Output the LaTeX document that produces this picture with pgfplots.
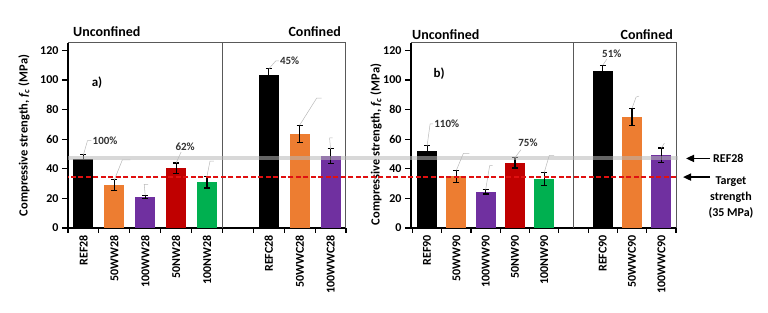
\documentclass[border=0pt]{standalone}
\usepackage{pgfplots}
\pgfplotsset{compat=1.18}
\usetikzlibrary{arrows.meta}
\usepackage{fontspec}
\setmainfont{Carlito}
\definecolor{cblack}{HTML}{000000}
\definecolor{corange}{HTML}{ED7D31}
\definecolor{cpurple}{HTML}{7030A0}
\definecolor{cred}{HTML}{C00000}
\definecolor{dashred}{HTML}{E01010}
\definecolor{cgreen}{HTML}{00B050}
\definecolor{refgray}{HTML}{B8B8B8}
\definecolor{framegray}{HTML}{595959}
\tikzset{
  leader/.style={gray!55, line width=0.5pt},
  pct/.style={text=black!80, font=\bfseries\fontsize{11}{11}\selectfont, inner sep=1pt},
  ttl/.style={font=\bfseries\fontsize{14}{14}\selectfont, inner sep=0pt},
  ylab/.style={rotate=90, font=\bfseries\fontsize{12.5}{12.5}\selectfont, inner sep=0pt},
}
\pgfplotsset{
  panel/.style={
    scale only axis, height=185pt, ymin=0, ymax=125, ytick={0,20,...,120},
    axis lines*=left, axis line style={black,line width=1.2pt},
    tick align=outside, major tick length=6pt, minor tick length=5pt,
    tick style={black,line width=1.1pt},
    major x tick style={draw=none},
    xtick={0,1,2,3,4,6,7,8},
    minor xtick={-0.5,0.5,1.5,2.5,3.5,4.5,5.5,6.5,7.5,8.5},
    ybar, bar width=20pt, bar shift=0pt,
    clip=false,
    /pgf/number format/assume math mode=true,
    ticklabel style={font=\bfseries\fontsize{12}{12}\selectfont},
    xticklabel style={rotate=90, anchor=east, inner sep=1pt},
    error bars/y dir=both, error bars/y explicit,
    error bars/error bar style={black,line width=1.2pt},
    error bars/error mark options={black, rotate=90, mark size=3pt, line width=1.2pt},
  },
}
\begin{document}
\begin{tikzpicture}
\useasboundingbox (0,0) rectangle (768pt,313pt);
% ---------------- panel a ----------------
\begin{axis}[panel, at={(68pt,85pt)}, anchor=south west, width=278pt,
  xmin=-0.5, xmax=8.5,
  xticklabels={REF28,50WW28,100WW28,50NW28,100NW28,REFC28,50WWC28,100WWC28}]
\addplot[fill=cblack, draw=none] coordinates {(0,46.5) +- (0,3)};
\addplot[fill=corange, draw=none] coordinates {(1,29) +- (0,3.5)};
\addplot[fill=cpurple, draw=none] coordinates {(2,21) +- (0,1)};
\addplot[fill=cred, draw=none] coordinates {(3,40.4) +- (0,3.5)};
\addplot[fill=cgreen, draw=none] coordinates {(4,31) +- (0,4)};
\addplot[fill=cblack, draw=none] coordinates {(6,103.5) +- (0,4)};
\addplot[fill=corange, draw=none] coordinates {(7,63.5) +- (0,6)};
\addplot[fill=cpurple, draw=none] coordinates {(8,48.5) +- (0,5)};
\draw[framegray, line width=1pt] (rel axis cs:0,1) -- (rel axis cs:1,1) -- (rel axis cs:1,0);
\draw[framegray, line width=1pt] (axis cs:4.5,0) -- (axis cs:4.5,125);
\draw[leader] (axis cs:0,49.5) -- ++(4pt,14pt) -- ++(4pt,0pt) node[right,pct]{100\%};
\draw[leader] (axis cs:1,32.5) -- ++(8pt,20pt) -- ++(8pt,0pt);
\draw[leader] (axis cs:2,22) -- ++(-1pt,11pt) -- ++(4pt,0pt);
\draw[leader] (axis cs:3,43.9) -- ++(5pt,11pt) node[anchor=south,pct,xshift=4pt]{62\%};
\draw[leader] (axis cs:4,35) -- ++(3pt,15pt) -- ++(4pt,0pt);
\draw[leader] (axis cs:6,107.5) -- ++(7pt,8pt) -- ++(3pt,0pt) node[right,pct]{45\%};
\draw[leader] (axis cs:7,69.5) -- ++(17pt,27pt) -- ++(5pt,0pt);
\draw[leader] (axis cs:8,53.5) -- ++(-1pt,11pt) -- ++(3pt,0pt);
\node[ttl, anchor=west] at ([xshift=5pt,yshift=11pt]rel axis cs:0,1) {Unconfined};
\node[ttl, anchor=east] at ([xshift=-5pt,yshift=11pt]rel axis cs:1,1) {Confined};
\node[font=\bfseries\fontsize{13}{13}\selectfont] at (axis cs:0.44,98.5) {a)};
\node[ylab] at ([xshift=-44pt]rel axis cs:0,0.5) {Compressive strength, \textit{f}\textsubscript{\textit{c}} (MPa)};
\end{axis}
% ---------------- panel b ----------------
\begin{axis}[panel, at={(411pt,85pt)}, anchor=south west, width=265pt,
  xmin=-0.55, xmax=8.5,
  xticklabels={REF90,50WW90,100WW90,50NW90,100NW90,REFC90,50WWC90,100WWC90}]
\addplot[fill=cblack, draw=none] coordinates {(0,52) +- (0,3.5)};
\addplot[fill=corange, draw=none] coordinates {(1,35) +- (0,4)};
\addplot[fill=cpurple, draw=none] coordinates {(2,24.5) +- (0,1.5)};
\addplot[fill=cred, draw=none] coordinates {(3,44) +- (0,3.5)};
\addplot[fill=cgreen, draw=none] coordinates {(4,33) +- (0,4.5)};
\addplot[fill=cblack, draw=none] coordinates {(6,106) +- (0,4)};
\addplot[fill=corange, draw=none] coordinates {(7,75) +- (0,6)};
\addplot[fill=cpurple, draw=none] coordinates {(8,49) +- (0,5)};
\draw[framegray, line width=1pt] (rel axis cs:0,1) -- (rel axis cs:1,1) -- (rel axis cs:1,0);
\draw[framegray, line width=1pt] (axis cs:5,0) -- (axis cs:5,125);
\draw[leader] (axis cs:0,55.5) -- ++(3pt,22pt) -- ++(3pt,0pt) node[right,pct]{110\%};
\draw[leader] (axis cs:1,39) -- ++(7pt,17pt) -- ++(6pt,0pt);
\draw[leader] (axis cs:2,26) -- ++(4pt,24pt) -- ++(3pt,0pt);
\draw[leader] (axis cs:3,47.5) -- ++(6pt,8pt) node[anchor=south,pct,xshift=7pt,yshift=2pt]{75\%};
\draw[leader] (axis cs:4,37.5) -- ++(5pt,17pt) -- ++(5pt,0pt);
\draw[leader] (axis cs:6,110) -- ++(4pt,6pt) node[anchor=south,pct,xshift=5pt]{51\%};
\draw[leader] (axis cs:7,81) -- ++(4pt,11pt) -- ++(3pt,1pt);
\draw[leader] (axis cs:8,54) -- ++(3pt,5pt);
\node[ttl, anchor=west] at ([xshift=1pt,yshift=8pt]rel axis cs:0,1) {Unconfined};
\node[ttl, anchor=east] at ([xshift=-3pt,yshift=8pt]rel axis cs:1,1) {Confined};
\node[font=\bfseries\fontsize{13}{13}\selectfont] at (axis cs:0.41,104.5) {b)};
\node[ylab] at ([xshift=-35pt,yshift=-9pt]rel axis cs:0,0.5) {Compressive strength, \textit{f}\textsubscript{\textit{c}} (MPa)};
% reference lines across both panels
\draw[refgray, line width=4pt, opacity=0.55] ([xshift=2pt]axis cs:8.5,47) -- ([xshift=-608pt]axis cs:8.5,47);
\draw[dashred, line width=1.3pt, dash pattern=on 5pt off 2.5pt] (axis cs:8.5,34.4) -- ([xshift=-608pt]axis cs:8.5,34.4);
% side annotations
\draw[black, line width=1.6pt, -{Triangle[length=8pt,width=7pt]}] ([xshift=34pt]axis cs:8.5,47) -- ([xshift=10pt]axis cs:8.5,47);
\node[anchor=west, font=\bfseries\fontsize{12}{12}\selectfont, inner sep=0pt] at ([xshift=37pt]axis cs:8.5,47) {REF28};
\draw[black, line width=1.6pt, -{Triangle[length=8pt,width=7pt]}] ([xshift=34pt]axis cs:8.5,34.4) -- ([xshift=7pt]axis cs:8.5,34.4);
\node[anchor=north, align=center, font=\bfseries\fontsize{12}{16}\selectfont, inner sep=0pt] at ([xshift=55pt,yshift=1pt]axis cs:8.5,34.4) {Target\\strength\\(35 MPa)};
\end{axis}
\end{tikzpicture}
\end{document}
